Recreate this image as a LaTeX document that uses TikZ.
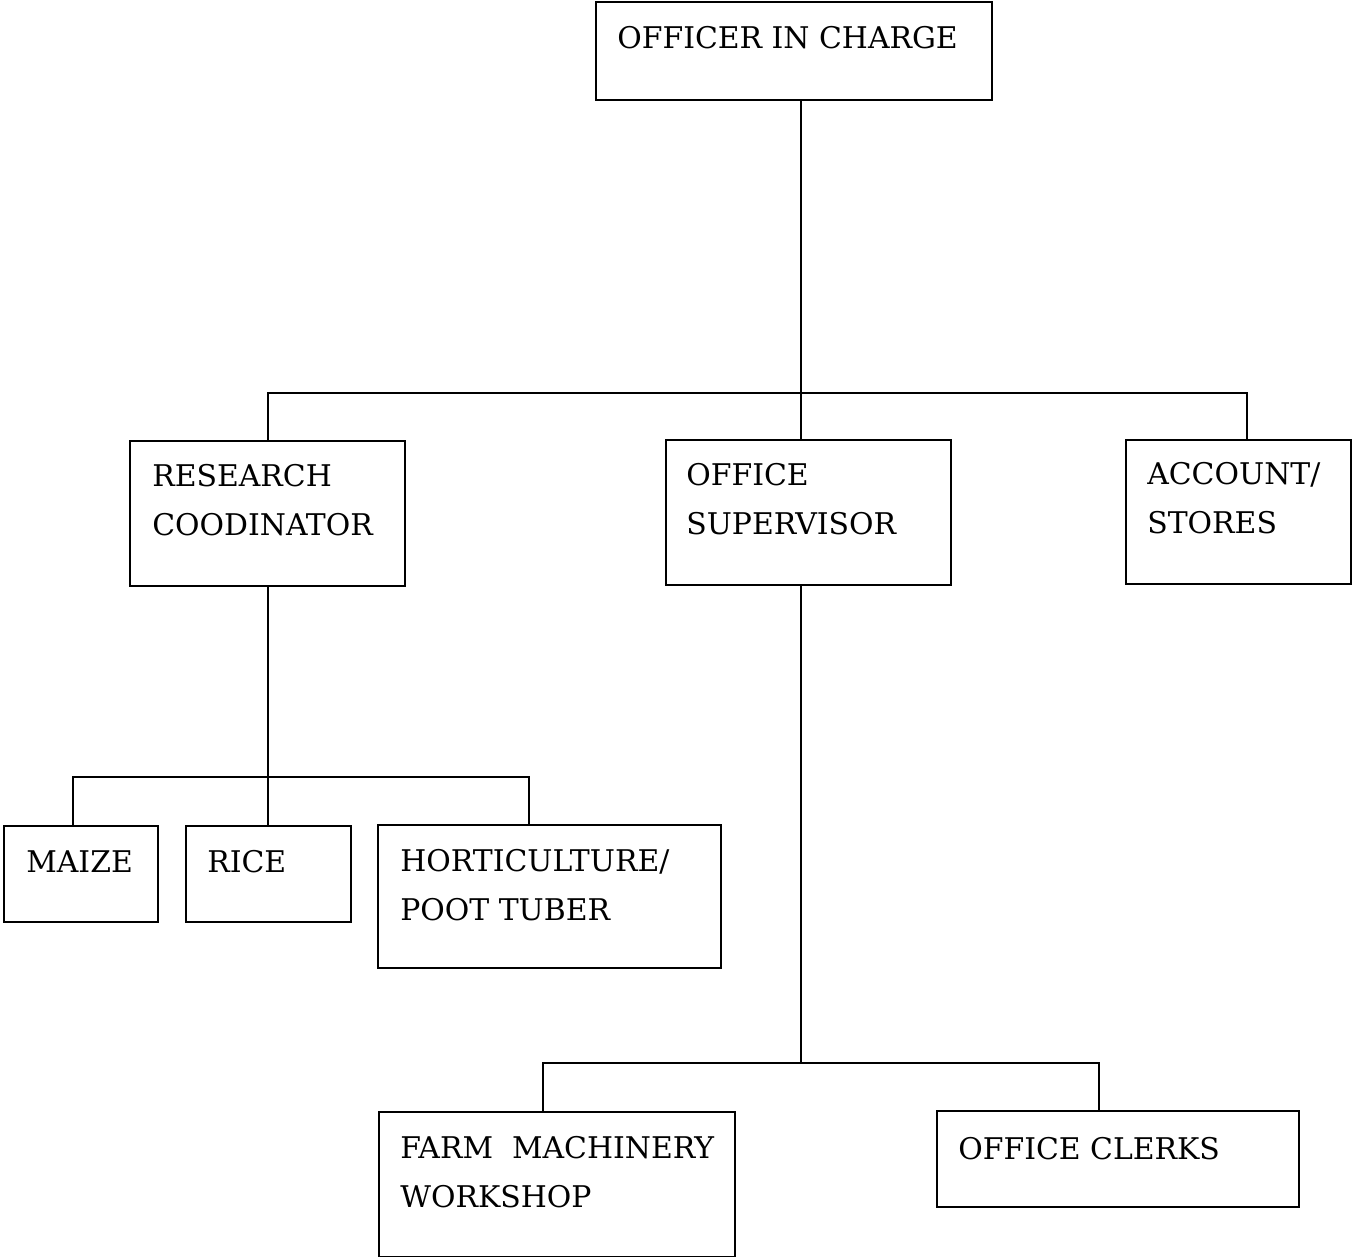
\documentclass[tikz,border=0pt]{standalone}
\usepackage{fontspec}
\setmainfont{DejaVu Serif}
\usetikzlibrary{fit}

\begin{document}
\begin{tikzpicture}[x=0.02cm, y=-0.02cm, line width=1.5pt,
  box/.style={draw, inner sep=0pt, line width=1.6pt},
  lbl/.style={anchor=base west, inner sep=0pt, align=left, font=\fontsize{17}{27.5}\selectfont}]
\useasboundingbox (0,0) rectangle (1352,1257);
% boxes
\node[box, fit={(596,2) (992,100)}] (oic) {};
\node[box, fit={(130,441) (405,586)}] (rc) {};
\node[box, fit={(666,440) (951,585)}] (os) {};
\node[box, fit={(1126,440) (1351,584)}] (acc) {};
\node[box, fit={(4,826) (158,922)}] (maize) {};
\node[box, fit={(186,826) (351,922)}] (rice) {};
\node[box, fit={(378,825) (721,968)}] (hort) {};
\node[box, fit={(379,1112) (735,1257)}] (farm) {};
\node[box, fit={(937,1111) (1299,1207)}] (clerks) {};
% texts (base = last line)
\node[lbl] (oic-t) at (616,49) {OFFICER IN CHARGE};
\node[lbl] (rc-t) at (151,535) {RESEARCH\\COODINATOR};
\node[lbl] (os-t) at (685,534) {OFFICE\\SUPERVISOR};
\node[lbl] (acc-t) at (1146,533) {ACCOUNT/\\STORES};
\node[lbl] (maize-t) at (25,872) {MAIZE};
\node[lbl] (rice-t) at (206,872) {RICE};
\node[lbl] (hort-t) at (399,920) {HORTICULTURE/\\POOT TUBER};
\node[lbl] (farm-t) at (399,1207) {FARM\ \ MACHINERY\\WORKSHOP};
\node[lbl] (clerks-t) at (957,1159) {OFFICE CLERKS};
% junctions
\coordinate (bus1) at (801,393);
\coordinate (acc-in) at (1247,440);
\coordinate (bus2) at (268,777);
\coordinate (maize-in) at (73,826);
\coordinate (hort-in) at (529,825);
\coordinate (bus3) at (801,1063);
\coordinate (farm-in) at (543,1112);
\coordinate (clerks-in) at (1099,1111);
% connectors
\draw (oic.south -| bus1) -- (os.north -| bus1);
\draw (rc.north -| bus2) |- (bus1) -| (acc-in);
\draw (rc.south -| bus2) -- (rice.north -| bus2);
\draw (maize-in) |- (bus2) -| (hort-in);
\draw (os.south -| bus3) -- (bus3);
\draw (farm-in) |- (bus3) -| (clerks-in);
\end{tikzpicture}
\end{document}
